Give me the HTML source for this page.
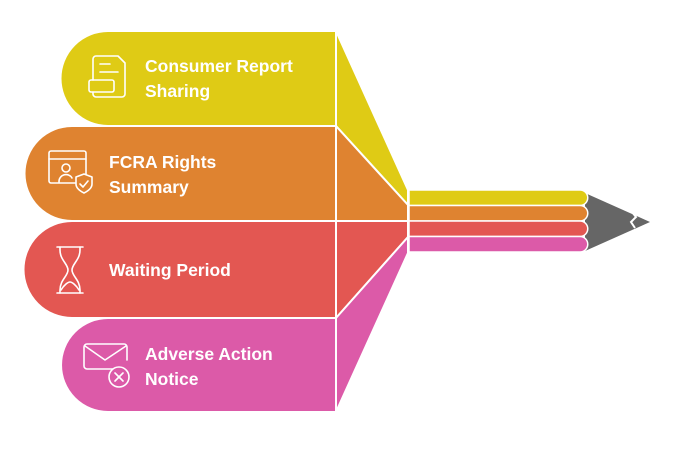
<!DOCTYPE html>
<html><head><style>
body{margin:0;background:#fff;width:678px;height:447px;overflow:hidden}
svg text{font-family:"Liberation Sans",sans-serif;font-weight:bold;font-size:17.5px;fill:#fff}
</style></head><body>
<svg width="678" height="447" viewBox="0 0 678 447">
<g stroke="#fff" stroke-width="2" stroke-linejoin="round">
<polygon points="336,31 408,190 408,205 336,126" fill="#DFCB15"/>
<polygon points="336,126 408,205 408,221 336,221" fill="#DF8330"/>
<polygon points="336,221 408,221 408,237 336,318" fill="#E35752"/>
<polygon points="336,318 408,237 408,253 336,412" fill="#DC5AA8"/>
<path d="M108,31 H336 V126 H108 A47.5,47.5 0 0 1 108,31Z" fill="#DFCB15"/>
<path d="M72,126 H336 V221 H72 A47.5,47.5 0 0 1 72,126Z" fill="#DF8330"/>
<path d="M72,221 H336 V318 H72 A48.5,48.5 0 0 1 72,221Z" fill="#E35752"/>
<path d="M108,318 H336 V412 H108 A47,47 0 0 1 108,318Z" fill="#DC5AA8"/>
</g>
<polygon points="585,193 650,222 585,251" fill="#666"/>
<polyline points="632,212 636,217 631,222 635,228" fill="none" stroke="#fff" stroke-width="2"/>
<g stroke="#fff" stroke-width="1.5">
<path d="M409,190 H580 A7.5,7.5 0 0 1 580,205.5 H409Z" fill="#DFCB15"/>
<path d="M409,205.5 H580 A7.7,7.7 0 0 1 580,221 H409Z" fill="#DF8330"/>
<path d="M409,221 H580 A7.7,7.7 0 0 1 580,236.5 H409Z" fill="#E35752"/>
<path d="M409,236.5 H580 A7.7,7.7 0 0 1 580,252 H409Z" fill="#DC5AA8"/>
</g>
<g fill="none" stroke="#fff" stroke-width="1.6" stroke-linecap="round" stroke-linejoin="round">
<path d="M93,80 V59 a3,3 0 0 1 3,-3 H118 l7,7 V94 a3,3 0 0 1 -3,3 H96 a3,3 0 0 1 -3,-3 V92"/>
<rect x="89" y="80" width="25" height="12" rx="2"/>
<line x1="100" y1="64" x2="110" y2="64"/><line x1="100" y1="72" x2="118" y2="72"/>
<rect x="49" y="151" width="37" height="32" rx="2"/><line x1="49" y1="159" x2="86" y2="159"/>
<circle cx="66" cy="168" r="4"/><path d="M59,182 a7,7 0 0 1 13,-4"/>
<path d="M84,174 l8,3 v7 c0,4 -4,7 -8,9 c-4,-2 -8,-5 -8,-9 v-7z" fill="#DF8330"/><polyline points="80,184 83,187 88,181"/>
<line x1="57" y1="247" x2="83" y2="247"/><line x1="57" y1="293" x2="83" y2="293"/>
<path d="M60,247 v3 c0,10 8,14 8,20 c0,6 -8,10 -8,20 v3"/><path d="M80,247 v3 c0,10 -8,14 -8,20 c0,6 8,10 8,20 v3"/>
<path d="M61,290 c3,-5 7,-8 9,-8 c2,0 6,3 9,8"/>
<path d="M118,369 H87 a3,3 0 0 1 -3,-3 V347 a3,3 0 0 1 3,-3 H124 a3,3 0 0 1 3,3 V360"/>
<polyline points="85,346 105,360 126,346"/>
<circle cx="119" cy="377" r="10" fill="#DC5AA8"/><line x1="115" y1="373" x2="123" y2="381"/><line x1="123" y1="373" x2="115" y2="381"/>
</g>
<text x="145" y="72">Consumer Report</text><text x="145" y="97">Sharing</text>
<text x="109" y="168">FCRA Rights</text><text x="109" y="193">Summary</text>
<text x="109" y="276">Waiting Period</text>
<text x="145" y="360">Adverse Action</text><text x="145" y="385">Notice</text>
</svg>
</body></html>
